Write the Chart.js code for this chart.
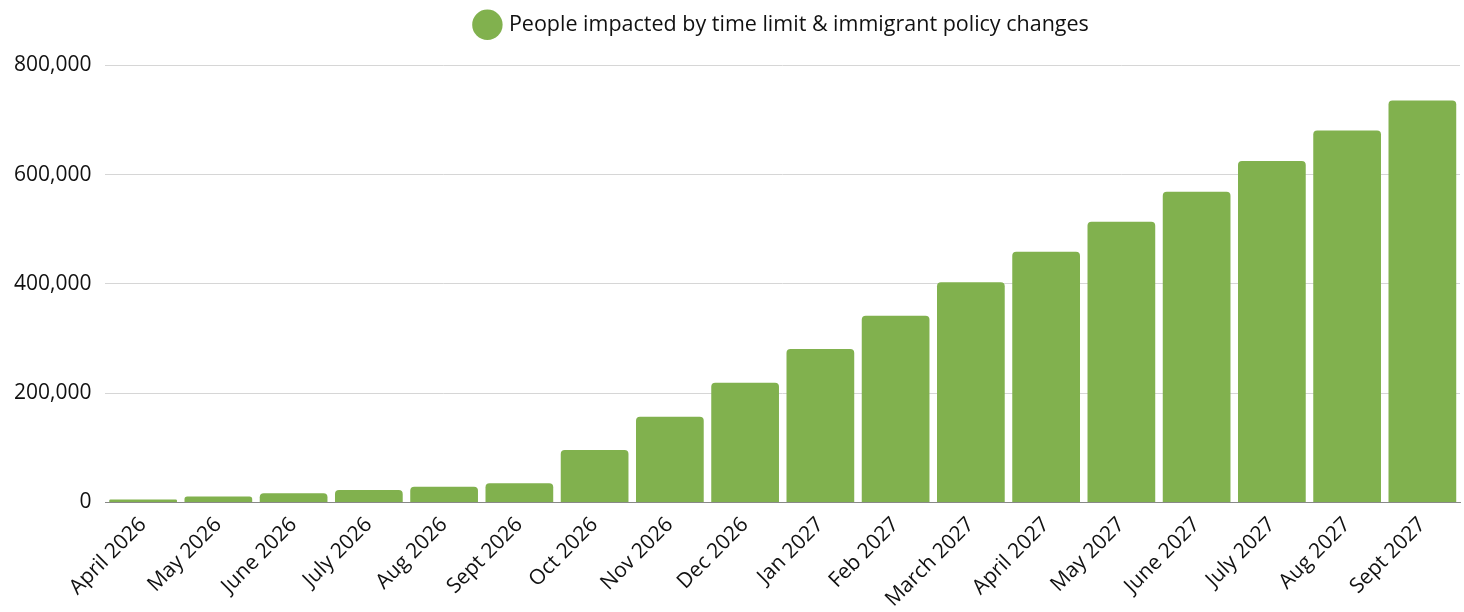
<!DOCTYPE html>
<html>
<head>
<meta charset="utf-8">
<script src="https://cdn.jsdelivr.net/npm/chart.js@4"></script>
<style>
  html, body { margin: 0; padding: 0; background: #fff; overflow: hidden; }
  /* a bit taller than the window so the slanted labels run off the bottom edge */
  #wrap { width: 1464px; height: 622px; }
</style>
</head>
<body>
<div id="wrap"><canvas id="chart"></canvas></div>
<script>
// DATA
const months = ['April 2026', 'May 2026', 'June 2026', 'July 2026', 'Aug 2026', 'Sept 2026',
  'Oct 2026', 'Nov 2026', 'Dec 2026', 'Jan 2027', 'Feb 2027', 'March 2027',
  'April 2027', 'May 2027', 'June 2027', 'July 2027', 'Aug 2027', 'Sept 2027'];
const impacted = [5500, 11000, 17000, 23000, 29000, 35000,
  96000, 157000, 219000, 281000, 342000, 403000,
  459000, 514000, 569000, 625000, 681000, 736000];
const seriesName = 'People impacted by time limit & immigrant policy changes';

const green = '#81b14e';
const fontFamily = '"Open Sans", Lato, sans-serif';

// extra room under the legend
const legendGap = {
  id: 'legendGap',
  beforeInit(chart) {
    const fit = chart.legend.fit;
    chart.legend.fit = function () {
      fit.bind(chart.legend)();
      this.height += 20;
    };
  }
};

new Chart(document.getElementById('chart'), {
  type: 'bar',
  data: {
    labels: months,
    datasets: [{
      label: seriesName,
      data: impacted,
      backgroundColor: green,
      borderRadius: { topLeft: 4, topRight: 4 },
      borderSkipped: 'start',
      barPercentage: 0.9,
      categoryPercentage: 1.0
    }]
  },
  options: {
    responsive: true,
    maintainAspectRatio: false,
    animation: false,
    layout: { padding: { left: 0, right: 4, top: 0, bottom: 0 } },
    plugins: {
      legend: {
        position: 'top',
        fullSize: false,
        labels: {
          usePointStyle: true,
          pointStyle: 'circle',
          color: '#111',
          font: { family: fontFamily, size: 21.5 },
          padding: 14
        }
      },
      tooltip: { enabled: false }
    },
    scales: {
      x: {
        grid: { display: false, drawTicks: false },
        border: { color: '#888', width: 1 },
        ticks: {
          color: '#111',
          font: { family: fontFamily, size: 21 },
          maxRotation: 45,
          minRotation: 45,
          padding: 10,
          autoSkip: false
        }
      },
      y: {
        min: 0,
        max: 800000,
        grid: { color: '#d6d6d6', drawTicks: false },
        border: { display: false },
        ticks: {
          stepSize: 200000,
          color: '#111',
          padding: 14,
          font: { family: fontFamily, size: 21 },
          callback: v => v.toLocaleString('en-US')
        }
      }
    }
  },
  plugins: [legendGap]
});
</script>
</body>
</html>
